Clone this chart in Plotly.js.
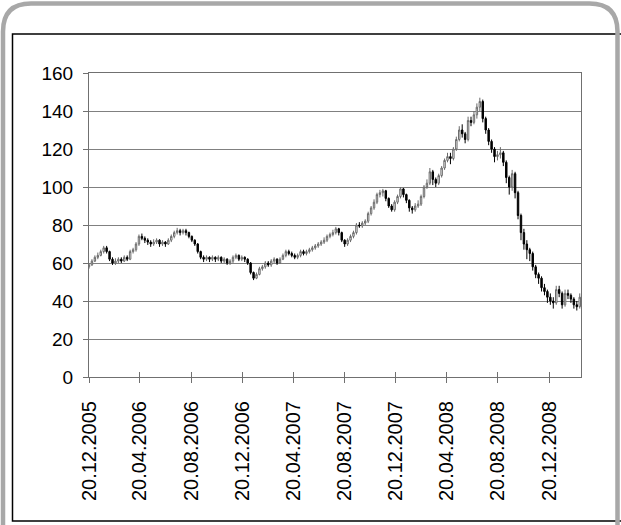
<!DOCTYPE html>
<html>
<head>
<meta charset="utf-8">
<script src="https://cdn.plot.ly/plotly-3.0.1.min.js"></script>
<style>
  html, body { margin: 0; padding: 0; background: #ffffff; }
  #chart { width: 621px; height: 525px; }
</style>
</head>
<body>
<div id="chart"></div>
<script>
// ---- Data (weekly OHLC) ----
var firstWeek = '2005-12-20';
var openVals = [58,59,61,63,64,66,68,66,62,60,61,62,61,63,62,66,67,70,74,73,
  72,71,70,71,72,70,71,70,72,74,76,77,76,77,76,74,72,70,66,63,
  62,63,62,63,62,63,61,62,60,61,63,64,62,63,62,60,55,52,54,57,
  58,60,59,61,62,60,62,64,66,65,64,63,64,66,65,66,67,68,69,70,
  71,72,74,75,76,78,76,72,70,72,74,76,80,79.5,81,82,86,89,92,96,
  97,98,94,90,88,92,95,99,96,93,89,88,90,91,95,100,102,108,104,102,
  106,110,114,116,115,120,125,130,128,125,135,134,138,142,145,136,130,124,120,116,
  117,118,113,105,100,107,97,85,76,70,67,65,58,54,52,47,45,42,40,39,
  46,44,38,44,43,41,38,37];
var highVals = [60,62,64,65.5,67,69,69,66.5,63,62.5,63,63,64,64,67,68,71,75,75.5,74,
  73,72,72.5,73,72.5,72,71.5,73,75,77,78.5,78,78,78,76.5,74.5,72.5,70.5,66.5,64,
  64,63.5,64,63.5,64,63.5,63,62.5,62,64,65,64.5,64,63.5,62.5,60.5,55.5,55,58,59,
  61,61,62,63,62.5,63,65,67,67,66,65,65,67,67,67,68,69,70,71,72,
  73.5,75,76,77.5,79,78.5,76.5,72.5,73,75,77,81,81.5,82,83,87,90,93.5,97,98.5,
  99,98.5,94.5,91,93,96,100,99.5,96.5,93.5,90,91.5,93,96,101,104,110,109,105,107,
  111,115,118,118,121,126.5,132,133,129,137,137,140,144,147,146,137,131,125,121,119,
  121,119,114,106,109,108,98,86,78,72,68,66,59,55,53,49,46,44,42,48,
  48,45,46,46,44,42,40,44];
var lowVals = [57,58.5,60.5,62,63.5,65,65,61,59,59,60,60,60.5,61,61.5,65,66,69,72,70.5,
  69.5,68.5,69,70,68.5,69,68.5,69.5,71,73,75,74.5,75,74.5,73,71,69,65,62,60.5,
  61,60.5,61,60.5,61,60,60,59,59,60,62,61,61,60.5,59,54,51,51.5,53.5,56,
  57,58,58,60,59,59.5,61.5,63,64,63,62,62,63,64,64,65,66,67,68,69,
  70,71,73,74,75,74.5,71,68.5,69,71,73,75,78.5,78.5,80,81,85,88,91,94.5,
  95,92.5,89,87,87,91,94,94.5,91.5,87,86,87,89,90,94,99,101,101,100,101,
  105,109,113,112,114,119,124,126,123,124,132,133,136,140,134,128,122,118,113,114,
  115,111,102,96,98,94,83,72,67,62,61,56,52,49,45,43,39,38,36,38,
  42,36,37,41,39,36,35,36];
var closeVals = [59,61,63,64,66,68,66,62,60,61,62,61,63,62,66,67,70,74,73,72,
  71,70,71,72,70,71,70,72,74,76,77,76,77,76,74,72,70,66,63,62,
  63,62,63,62,63,61,62,60,61,63,64,62,63,62,60,55,52,54,57,58,
  60,59,61,62,60,62,64,66,65,64,63,64,66,65,66,67,68,69,70,71,
  72,74,75,76,78,76,72,70,72,74,76,80,79.5,81,82,86,89,92,96,97,
  98,94,90,88,92,95,99,96,93,89,88,90,91,95,100,102,108,104,102,106,
  110,114,116,115,120,125,130,128,125,135,134,138,142,145,136,130,124,120,116,117,
  118,113,105,100,107,97,85,76,70,67,65,58,54,52,47,45,42,40,39,46,
  44,38,44,43,41,38,37,42];
var tickDates = ['2005-12-20','2006-04-20','2006-08-20','2006-12-20','2007-04-20',
  '2007-08-20','2007-12-20','2008-04-20','2008-08-20','2008-12-20'];
var tickLabels = ['20.12.2005','20.04.2006','20.08.2006','20.12.2006','20.04.2007',
  '20.08.2007','20.12.2007','20.04.2008','20.08.2008','20.12.2008'];
var yTickVals = [0,20,40,60,80,100,120,140,160];

// weekly category dates
var weekDates = [];
var d0 = new Date(firstWeek + 'T00:00:00Z');
for (var i = 0; i < closeVals.length; i++) {
  var d = new Date(d0.getTime() + i * 7 * 86400000);
  weekDates.push(d.toISOString().slice(0, 10));
}

// ---- Layout geometry (pixels) ----
var W = 621, H = 525;
var M = {l: 89, r: 40, t: 73, b: 148};
var PW = W - M.l - M.r, PH = H - M.t - M.b;
function px(x) { return (x - M.l) / PW; }
function py(y) { return (M.t + PH - y) / PH; }

var font = 'Liberation Sans, Arial, sans-serif';
var axisCol = '#707070';

var trace = {
  type: 'candlestick',
  x: weekDates,
  open: openVals, high: highVals, low: lowVals, close: closeVals,
  increasing: {line: {color: '#6a6a6a', width: 1}, fillcolor: '#ffffff'},
  decreasing: {line: {color: '#000000', width: 1}, fillcolor: '#000000'},
  whiskerwidth: 0,
  width: 7 * 86400000 * 0.7,
  hoverinfo: 'skip',
  showlegend: false
};
var helper = {type: 'scatter', x: [], y: [], xaxis: 'x2', yaxis: 'y', showlegend: false, hoverinfo: 'skip'};

var r = 28;
var gx0 = 3, gx1 = 617.5, gy0 = 3.5, gyb = 560;
var framePath = 'M ' + px(gx0) + ',' + py(gyb) +
  ' L ' + px(gx0) + ',' + py(gy0 + r) +
  ' Q ' + px(gx0) + ',' + py(gy0) + ' ' + px(gx0 + r) + ',' + py(gy0) +
  ' L ' + px(gx1 - r) + ',' + py(gy0) +
  ' Q ' + px(gx1) + ',' + py(gy0) + ' ' + px(gx1) + ',' + py(gy0 + r) +
  ' L ' + px(gx1) + ',' + py(gyb);

var layout = {
  width: W, height: H,
  margin: M,
  paper_bgcolor: '#ffffff',
  plot_bgcolor: '#ffffff',
  showlegend: false,
  font: {family: font, color: '#000000'},
  xaxis: {
    type: 'date',
    range: ['2005-12-20', '2009-03-06'],
    tickmode: 'array', tickvals: tickDates, ticktext: tickLabels,
    tickangle: -90,
    tickfont: {family: font, size: 20, color: '#000000'},
    ticks: 'outside', ticklen: 5, tickcolor: axisCol, tickwidth: 1,
    ticklabelstandoff: 10,
    showline: true, linecolor: axisCol, linewidth: 1, mirror: true,
    showgrid: false, zeroline: false,
    rangeslider: {visible: false},
    fixedrange: true
  },
  xaxis2: {
    type: 'date', overlaying: 'x', anchor: 'y', side: 'bottom',
    range: ['2005-12-20', '2009-03-06'],
    tickmode: 'array', tickvals: tickDates,
    showticklabels: false,
    ticks: 'inside', ticklen: 5, tickcolor: axisCol, tickwidth: 1,
    showline: false, showgrid: false, zeroline: false, fixedrange: true
  },
  yaxis: {
    range: [0, 160],
    tickmode: 'array', tickvals: yTickVals,
    tickfont: {family: font, size: 19, color: '#000000'},
    ticks: 'outside', ticklen: 5, tickcolor: axisCol, tickwidth: 1,
    showline: true, linecolor: axisCol, linewidth: 1, mirror: true,
    showgrid: true, gridcolor: '#808080', gridwidth: 1,
    zeroline: false, fixedrange: true,
    ticklabelstandoff: 6
  },
  shapes: [
    {type: 'rect', xref: 'paper', yref: 'paper', layer: 'below',
     x0: px(12.5), x1: px(640), y0: py(521), y1: py(34),
     line: {color: '#000000', width: 1.5}, fillcolor: 'rgba(0,0,0,0)'},
    {type: 'path', xref: 'paper', yref: 'paper', layer: 'above',
     path: framePath, line: {color: '#a8a8a8', width: 4.5}}
  ]
};

Plotly.newPlot('chart', [trace, helper], layout, {staticPlot: true, displayModeBar: false});
</script>
</body>
</html>
